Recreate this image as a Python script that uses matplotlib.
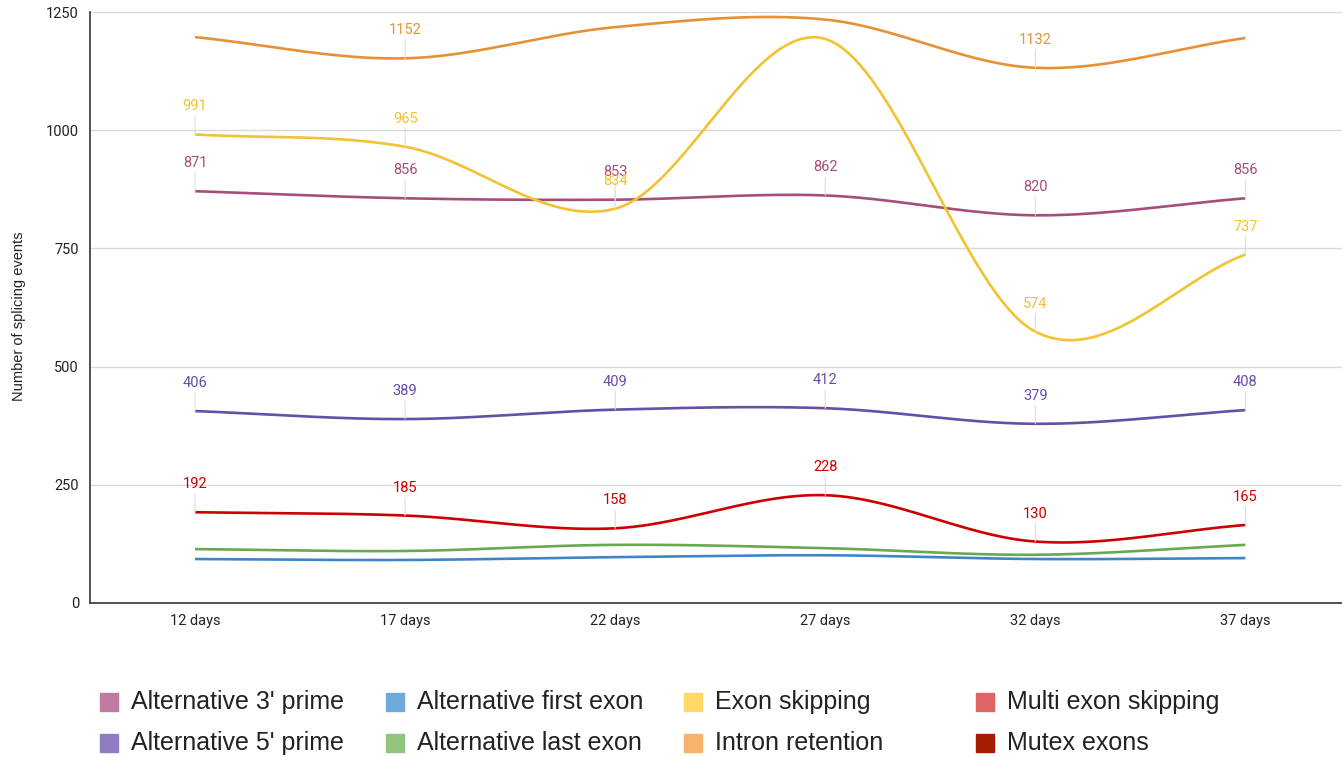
import numpy as np
import matplotlib
matplotlib.use("Agg")
import matplotlib.pyplot as plt
from matplotlib.patches import Rectangle

# data
days = ["12 days", "17 days", "22 days", "27 days", "32 days", "37 days"]

alt_3_prime = [871, 856, 853, 862, 820, 856]
alt_5_prime = [406, 389, 409, 412, 379, 408]
alt_first_exon = [93, 91, 97, 101, 93, 95]
alt_last_exon = [114, 110, 123, 116, 102, 123]
exon_skipping = [991, 965, 834, 1193, 574, 737]
intron_retention = [1197, 1152, 1218, 1234, 1132, 1195]
multi_exon_skipping = [192, 185, 158, 228, 130, 165]

legend_names = ["Alternative 3' prime", "Alternative 5' prime",
                "Alternative first exon", "Alternative last exon",
                "Exon skipping", "Intron retention",
                "Multi exon skipping", "Mutex exons"]
legend_colors = ["#c27ba0", "#8e7cc3", "#6fa8dc", "#93c47d",
                 "#ffd966", "#f6b26b", "#e06666", "#a61c00"]

# (values, line colour, show data labels)
series = [
    (alt_first_exon, "#3d85c6", False),
    (alt_last_exon, "#6aa84f", False),
    (multi_exon_skipping, "#cc0000", True),
    (alt_5_prime, "#674ea7", True),
    (alt_3_prime, "#a64d79", True),
    (exon_skipping, "#f1c232", True),
    (intron_retention, "#e69138", True),
]


def smooth(y, n=60):
    # catmull-rom style curve through the points, like the sheets "smooth" option
    y = np.asarray(y, dtype=float)
    k = len(y)
    m = np.zeros(k)
    m[1:-1] = (y[2:] - y[:-2]) / 2
    m[0] = y[1] - y[0]
    m[-1] = y[-1] - y[-2]
    xs, ys = [], []
    t = np.linspace(0, 1, n)
    h00 = 2 * t**3 - 3 * t**2 + 1
    h10 = t**3 - 2 * t**2 + t
    h01 = -2 * t**3 + 3 * t**2
    h11 = t**3 - t**2
    for i in range(k - 1):
        xs.append(i + t)
        ys.append(h00 * y[i] + h10 * m[i] + h01 * y[i + 1] + h11 * m[i + 1])
    return np.concatenate(xs), np.concatenate(ys)


fig = plt.figure(figsize=(13.42, 7.57), dpi=100)
ax = fig.add_axes([90 / 1342, 1 - 603 / 757, 1 - 90 / 1342, (603 - 12) / 757])

x = np.arange(len(days))
ymax = 1250
label_off_px = 28
px_per_unit = ax.get_position().height * 757 / ymax

for vals, col, labelled in series:
    sx, sy = smooth(vals)
    ax.plot(sx, sy, color=col, lw=1.9, solid_capstyle="butt", zorder=3)
    if not labelled:
        continue
    for xi, v in zip(x, vals):
        # labels that would sit above the plot area are dropped
        if v + label_off_px / px_per_unit > ymax:
            continue
        ax.annotate(str(v), xy=(xi, v), xytext=(0, label_off_px * 0.72),
                    textcoords="offset points", ha="center", va="center",
                    color=col, fontsize=10.5, family="Roboto",
                    arrowprops=dict(arrowstyle="-", color="#dddddd", lw=0.8,
                                    shrinkA=0, shrinkB=0),
                    zorder=4)

ax.set_xlim(-0.5, 5.46)
ax.set_ylim(0, ymax)
ax.set_yticks([0, 250, 500, 750, 1000, 1250])
ax.set_xticks(x)
ax.set_xticklabels(days)
ax.tick_params(length=0, labelsize=10.5, colors="#222222", pad=8)
for lab in ax.get_xticklabels() + ax.get_yticklabels():
    lab.set_family("Roboto")
ax.grid(axis="y", color="#d9d9d9", lw=1)
ax.set_axisbelow(True)
for s in ["top", "right"]:
    ax.spines[s].set_visible(False)
for s in ["left", "bottom"]:
    ax.spines[s].set_color("#444444")
    ax.spines[s].set_linewidth(1.3)

fig.text(19 / 1342, 1 - 316 / 757, "Number of splicing events", rotation=90,
         ha="center", va="center", fontsize=10.5, family="Liberation Sans",
         color="#222222")

# legend, two rows by four columns
col_x = [100, 386, 684, 976]
row_y = [702, 743]
for i, (name, c) in enumerate(zip(legend_names, legend_colors)):
    cx = col_x[i // 2]
    cy = row_y[i % 2]
    fig.patches.append(Rectangle((cx / 1342, 1 - (cy + 9) / 757), 18 / 1342, 18 / 757,
                                 transform=fig.transFigure, color=c, figure=fig))
    fig.text((cx + 31) / 1342, 1 - cy / 757, name, ha="left", va="center",
             fontsize=18, family="Liberation Sans", color="#222222")

fig.savefig("out.png", dpi=100)
